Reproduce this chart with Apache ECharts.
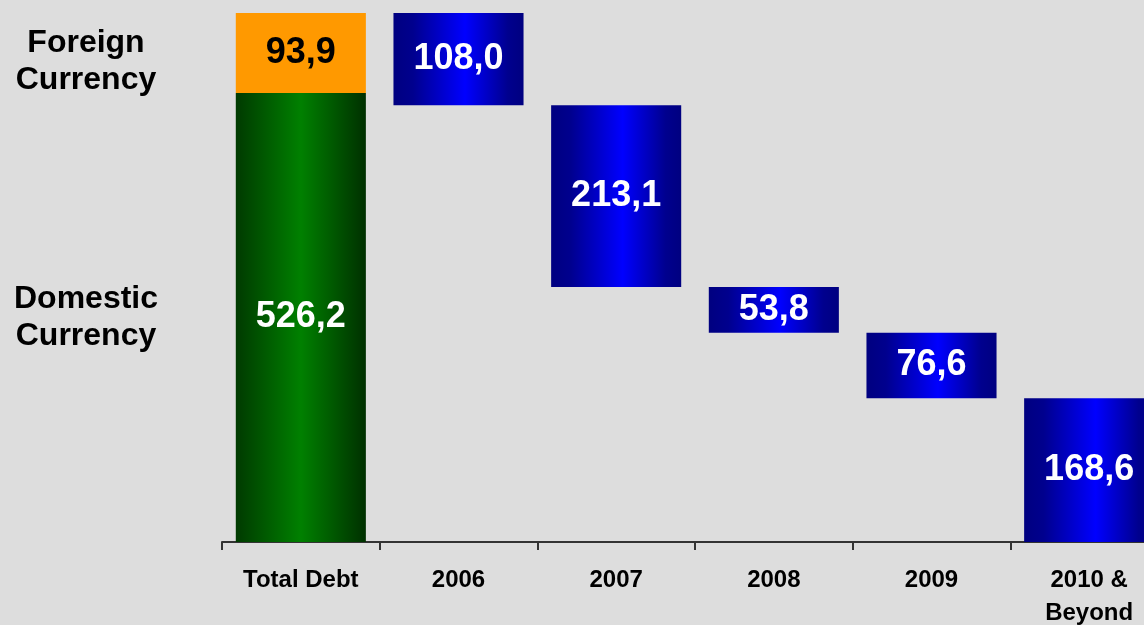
<!DOCTYPE html>
<html>
<head>
<meta charset="utf-8">
<script src="https://cdn.jsdelivr.net/npm/echarts@6/dist/echarts.min.js"></script>
<style>
  html, body { margin: 0; padding: 0; background: #dddddd; overflow: hidden; width: 1144px; height: 625px; }
  #chart { width: 1168px; height: 625px; }
</style>
</head>
<body>
<div id="chart"></div>
<script>
// Debt maturity profile: total debt split by currency, then repayments by year
const categories = ['Total Debt', '2006', '2007', '2008', '2009', '2010 &\nBeyond'];
const domesticDebt = 526.2;
const foreignDebt = 93.9;
const maturities = [108.0, 213.1, 53.8, 76.6, 168.6];
const sideLabels = ['Foreign\nCurrency', 'Domestic\nCurrency'];

const FONT = '"Liberation Sans", Arial, sans-serif';
const total = domesticDebt + foreignDebt;

// Invisible offsets so each maturity block hangs from the remaining balance
const offsets = [0];
let remaining = total;
maturities.forEach(v => { remaining -= v; offsets.push(remaining); });

const domesticData = [domesticDebt, 0, 0, 0, 0, 0];
const foreignData = [foreignDebt, 0, 0, 0, 0, 0];
const maturityData = [0].concat(maturities);

const fmt = p => (p.value ? p.value.toFixed(1).replace('.', ',') : '');

const hGrad = stops => ({
  type: 'linear', x: 0, y: 0, x2: 1, y2: 0,
  colorStops: stops.map(s => ({ offset: s[0], color: s[1] }))
});

const valueLabel = color => ({
  show: true, position: 'inside', formatter: fmt,
  color: color, fontFamily: FONT, fontWeight: 'bold', fontSize: 36
});

const chart = echarts.init(document.getElementById('chart'));
chart.setOption({
  backgroundColor: '#dddddd',
  animation: false,
  grid: { left: 222, right: 0, top: 13, bottom: 83, outerBoundsMode: 'none', containLabel: false },
  xAxis: {
    type: 'category',
    data: categories,
    axisLine: { show: true, lineStyle: { color: '#333333', width: 2 } },
    axisTick: { show: true, length: 8, lineStyle: { color: '#333333', width: 2 } },
    axisLabel: {
      margin: 22, color: '#000000', fontFamily: FONT, fontWeight: 'bold',
      fontSize: 24, lineHeight: 33, interval: 0
    }
  },
  yAxis: { type: 'value', min: 0, max: total, show: false, splitLine: { show: false } },
  series: [
    {
      name: 'offset', type: 'bar', stack: 'debt', data: offsets,
      itemStyle: { color: 'transparent' }, barCategoryGap: '17.5%', silent: true
    },
    {
      name: 'Domestic Currency', type: 'bar', stack: 'debt', data: domesticData,
      itemStyle: { color: hGrad([[0, '#003a00'], [0.5, '#008000'], [1, '#003000']]) },
      label: valueLabel('#ffffff')
    },
    {
      name: 'Foreign Currency', type: 'bar', stack: 'debt', data: foreignData,
      itemStyle: { color: '#ff9900' },
      label: valueLabel('#000000')
    },
    {
      name: 'Maturities', type: 'bar', stack: 'debt', data: maturityData,
      itemStyle: { color: hGrad([[0, '#000080'], [0.15, '#00008e'], [0.55, '#0000ff'], [0.88, '#00008e'], [1, '#000080']]) },
      label: valueLabel('#ffffff')
    }
  ],
  graphic: [
    {
      type: 'text', x: 86, y: 62,
      style: {
        text: sideLabels[0], textAlign: 'center', textVerticalAlign: 'middle',
        font: 'bold 32px ' + FONT, lineHeight: 37, fill: '#000000'
      }
    },
    {
      type: 'text', x: 86, y: 318,
      style: {
        text: sideLabels[1], textAlign: 'center', textVerticalAlign: 'middle',
        font: 'bold 32px ' + FONT, lineHeight: 37, fill: '#000000'
      }
    }
  ]
});
</script>
</body>
</html>
